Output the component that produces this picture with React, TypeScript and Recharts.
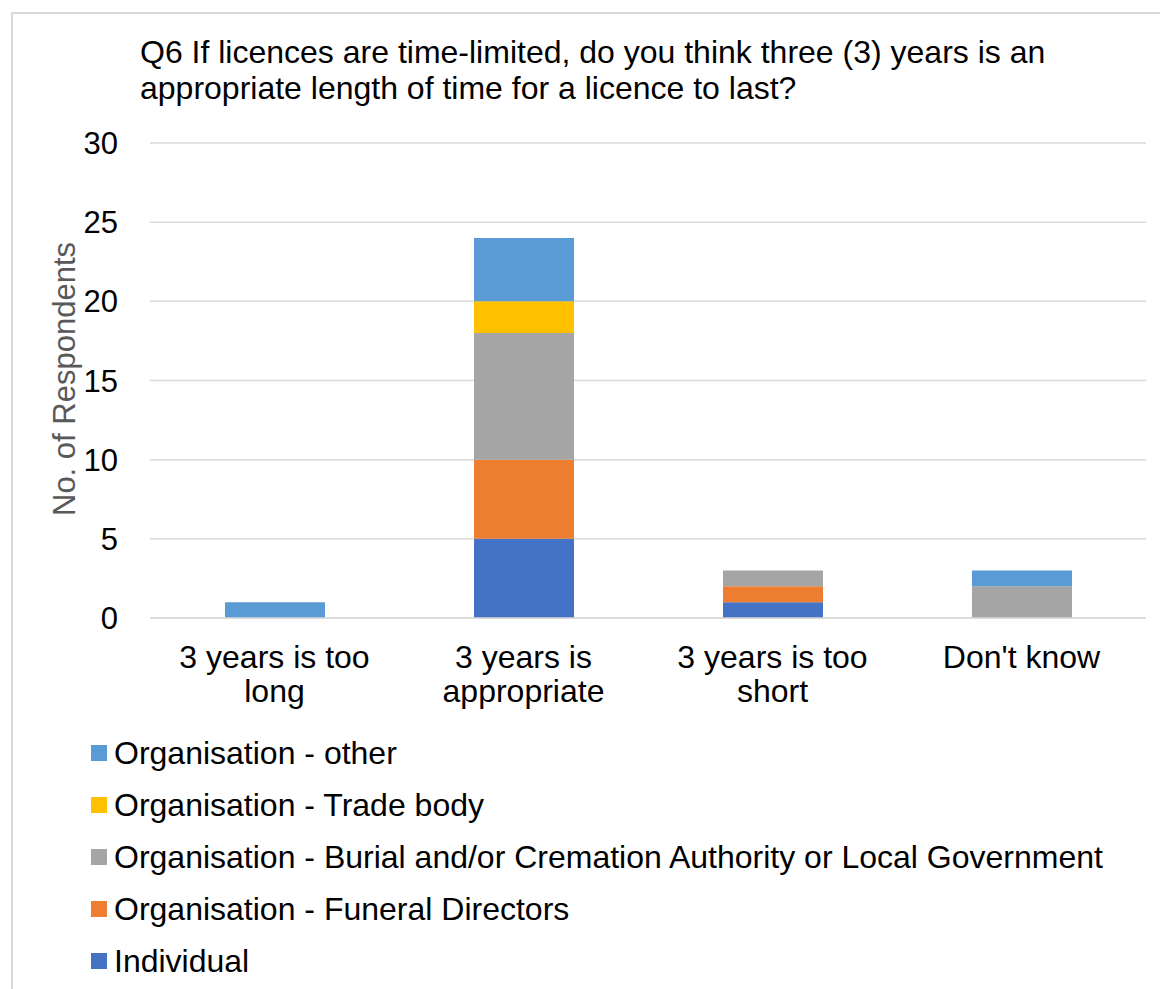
import React from "react";
import { BarChart, Bar, XAxis, YAxis, CartesianGrid } from "recharts";

const categories = ["3 years is too long", "3 years is appropriate", "3 years is too short", "Don't know"];
const categoryLines = [["3 years is too", "long"], ["3 years is", "appropriate"], ["3 years is too", "short"], ["Don't know"]];
const individual = [0, 5, 1, 0];
const funeralDirectors = [0, 5, 1, 0];
const burialCremation = [0, 8, 1, 2];
const tradeBody = [0, 2, 0, 0];
const orgOther = [1, 4, 0, 1];
const yTicks = [0, 5, 10, 15, 20, 25, 30];

const seriesNames = [
  "Individual",
  "Organisation - Funeral Directors",
  "Organisation - Burial and/or Cremation Authority or Local Government",
  "Organisation - Trade body",
  "Organisation - other",
];
const seriesKeys = ["ind", "fun", "bur", "tra", "oth"];
const seriesColors = ["#4472C4", "#ED7D31", "#A5A5A5", "#FFC000", "#5B9BD5"];
const seriesValues = [individual, funeralDirectors, burialCremation, tradeBody, orgOther];

const data = categories.map((c, i) => {
  const row: any = { name: c, idx: i };
  seriesKeys.forEach((k, s) => (row[k] = seriesValues[s][i]));
  return row;
});

const FONT = "'Liberation Sans', Arial, sans-serif";

const XTick = (props: any) => {
  const { x, y, index } = props;
  const lines = categoryLines[index] || [];
  return (
    <g>
      {lines.map((l, i) => (
        <text key={i} x={x} y={y + 42 + i * 34} textAnchor="middle" fontSize={32} fill="#000" fontFamily={FONT}>
          {l}
        </text>
      ))}
    </g>
  );
};

const LegendBox = () => {
  const order = [4, 3, 2, 1, 0];
  return (
    <div style={{ position: "absolute", left: 91, top: 727, fontFamily: FONT }}>
      {order.map((s) => (
        <div key={s} style={{ display: "flex", alignItems: "center", height: 52 }}>
          <div style={{ width: 16, height: 16, background: seriesColors[s], marginRight: 7 }} />
          <span style={{ fontSize: 32, lineHeight: "36px", color: "#000", whiteSpace: "nowrap" }}>{seriesNames[s]}</span>
        </div>
      ))}
    </div>
  );
};

export default function App() {
  return (
    <div style={{ position: "fixed", left: 0, top: 0, width: 1160, height: 989, background: "#fff", overflow: "hidden", fontFamily: FONT }}>
      <div style={{ position: "absolute", left: 11, top: 12, width: 1160, height: 1000, borderLeft: "2px solid #D9D9D9", borderTop: "2px solid #D9D9D9" }} />
      <div style={{ position: "absolute", left: 140, top: 34, fontSize: 32, lineHeight: "36px", color: "#000", whiteSpace: "nowrap" }}>
        Q6 If licences are time-limited, do you think three (3) years is an
        <br />
        appropriate length of time for a licence to last?
      </div>
      <div
        style={{
          position: "absolute",
          left: 65,
          top: 379,
          transform: "translate(-50%, -50%) rotate(-90deg)",
          fontSize: 31,
          color: "#595959",
          whiteSpace: "nowrap",
        }}
      >
        No. of Respondents
      </div>
      <div style={{ position: "absolute", left: 0, top: 0 }}>
        <BarChart width={1160} height={989} data={data} margin={{ top: 143, right: 14, bottom: 271, left: 90 }}>
          <CartesianGrid vertical={false} stroke="#D9D9D9" strokeWidth={1.5} />
          <XAxis dataKey="name" axisLine={{ stroke: "#D9D9D9", strokeWidth: 1.5 }} tickLine={false} tick={<XTick />} interval={0} height={100} />
          <YAxis
            width={60}
            domain={[0, 30]}
            ticks={yTicks}
            axisLine={false}
            tickLine={false}
            tick={{ fontSize: 31, fill: "#000", fontFamily: FONT }}
            tickMargin={26}
          />
          {seriesKeys.map((k, s) => (
            <Bar key={k} dataKey={k} stackId="a" fill={seriesColors[s]} barSize={100} isAnimationActive={false} name={seriesNames[s]} />
          ))}
        </BarChart>
      </div>
      <LegendBox />
    </div>
  );
}
